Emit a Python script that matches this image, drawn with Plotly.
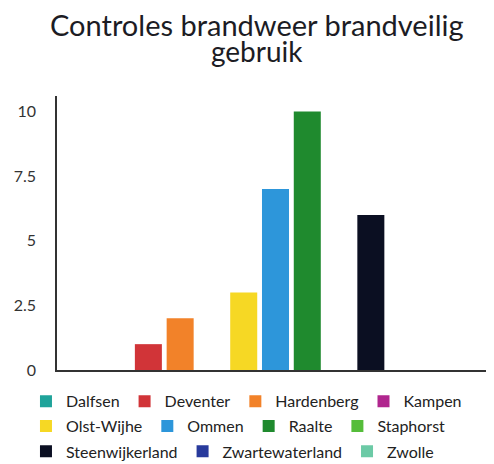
import plotly.graph_objects as go

categories = ["Controles"]
gemeenten = ["Dalfsen", "Deventer", "Hardenberg", "Kampen", "Olst-Wijhe", "Ommen",
             "Raalte", "Staphorst", "Steenwijkerland", "Zwartewaterland", "Zwolle"]
waarden = [0, 1, 2, 0, 3, 7, 10, 0, 6, 0, 0]
kleuren = ["#1fa39a", "#d13438", "#f28229", "#b0268e", "#f6d824", "#2d96da",
           "#1f8a2e", "#55bd3a", "#0b0f22", "#283a9c", "#6ccaa6"]
legend_rij = ["legend", "legend", "legend", "legend",
              "legend2", "legend2", "legend2", "legend2",
              "legend3", "legend3", "legend3"]
y_ticks = [0, 2.5, 5, 7.5, 10]
y_labels = ["0", "2.5", "5", "7.5", "10"]
titel_regels = ["Controles brandweer brandveilig", "gebruik"]

fig = go.Figure()
for naam, w, k, lg in zip(gemeenten, waarden, kleuren, legend_rij):
    fig.add_trace(go.Bar(x=categories, y=[w], name=naam, marker_color=k,
                         marker_line_width=0, legend=lg))

leg_font = dict(size=16, color="#222222", family="Lato, sans-serif")
leg_common = dict(orientation="h", xanchor="left", yanchor="top", x=-0.071,
                  font=leg_font, itemwidth=30, bgcolor="rgba(0,0,0,0)")

fig.update_layout(
    width=486, height=456,
    paper_bgcolor="white", plot_bgcolor="white",
    font=dict(family="Lato, sans-serif", color="#222222"),
    barmode="group", bargap=0.2, bargroupgap=0.15,
    margin=dict(l=49, r=0, t=88, b=94, autoexpand=False),
    showlegend=True,
    legend=dict(y=-0.052, **leg_common),
    legend2=dict(y=-0.143, **leg_common),
    legend3=dict(y=-0.235, **leg_common),
    xaxis=dict(showticklabels=False, showline=True, linecolor="#333333",
               linewidth=1.5, showgrid=False, ticks="", zeroline=False),
    yaxis=dict(range=[0, 10.6], tickvals=y_ticks, ticktext=y_labels,
               showline=True, linecolor="#333333", linewidth=1.5,
               showgrid=False, zeroline=False, ticks="",
               ticklabelstandoff=16, tickfont=dict(size=16, color="#333333")),
)

for tekst, ypos, grootte in zip(titel_regels, [1.261, 1.166], [29, 28]):
    fig.add_annotation(text=tekst, xref="paper", yref="paper", x=0.458, y=ypos,
                       xanchor="center", yanchor="middle", showarrow=False,
                       font=dict(size=grootte, color="#1c1c24", family="Lato, sans-serif"))

fig.write_html("out.html")
